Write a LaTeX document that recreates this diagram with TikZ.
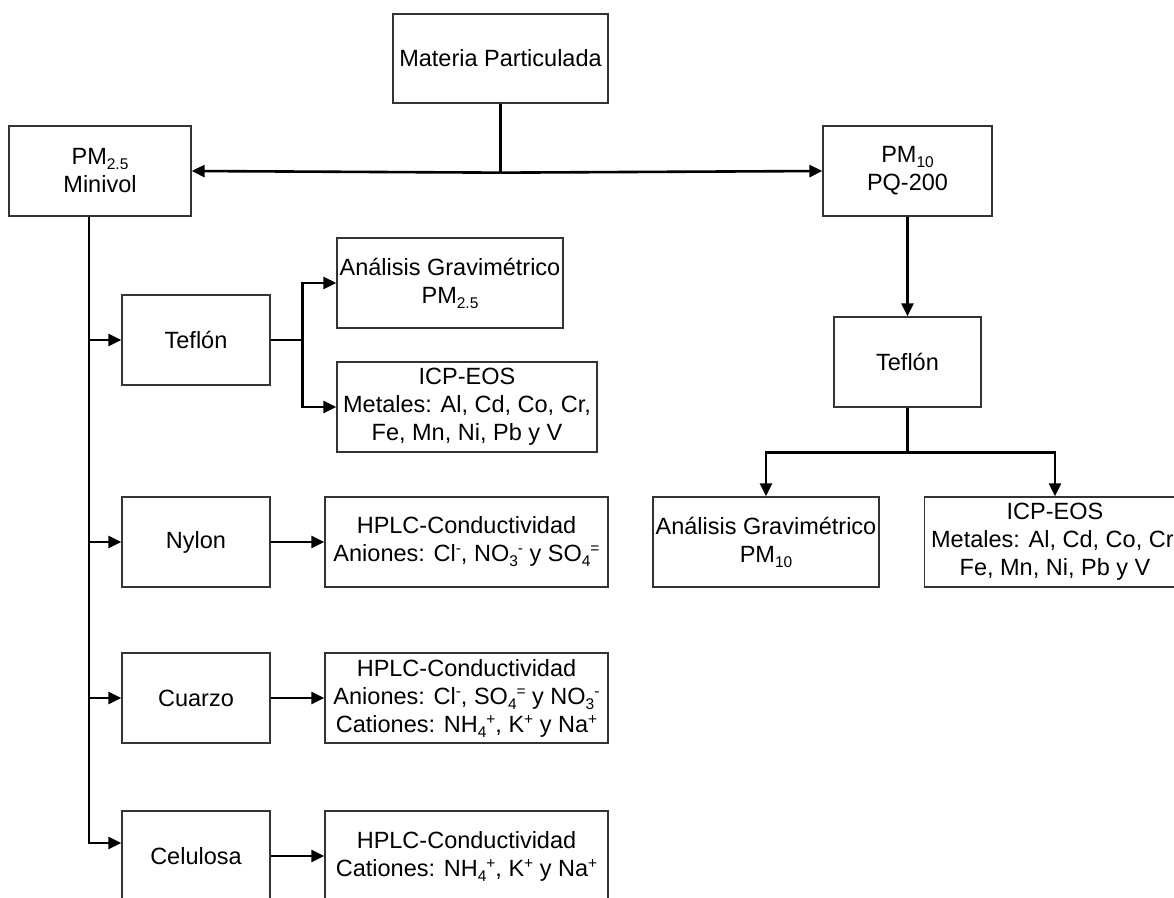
\documentclass[tikz,border=0pt]{standalone}
\usepackage{fontspec}
\setmainfont{Liberation Sans}
\usetikzlibrary{arrows.meta,calc}
\newcommand\dnx[1]{\raisebox{-5pt}{\fontsize{15.5}{16}\selectfont #1}}
\newcommand\upx[1]{\raisebox{8pt}{\fontsize{15.5}{16}\selectfont #1}}
\begin{document}
\begin{tikzpicture}[x=1pt,y=-1pt,
  box/.style={draw=black!80, line width=1.3pt, rectangle, inner sep=0pt, align=center,
    font=\fontsize{23.5}{28}\selectfont, minimum height=90pt},
  conn/.style={line width=2.6pt, black},
  arr/.style={conn, -{Triangle[length=13pt,width=12pt]}},
]
\useasboundingbox (0,0) rectangle (1174,897);
\clip (0,0) rectangle (1174,897);
\fill[white] (0,0) rectangle (1174,897);

% top level
\node[box, minimum width=215pt, minimum height=89pt] (mat) at (500.5,58.5) {Materia Particulada};
\node[box, minimum width=182pt] (pm25) at (100,171) {PM\dnx{2.5}\\Minivol};
\node[box, minimum width=169pt] (pm10) at (907.5,171) {PM\dnx{10}\\PQ-200};

% right branch
\node[box, minimum width=147pt] (tefR) at (907.5,362) {Tefl\'on};
\node[box, minimum width=226pt] (agR) at (766,542) {An\'alisis Gravim\'etrico\\PM\dnx{10}};
\node[box, minimum width=261pt] (icpR) at (1055,542) {ICP-EOS\\Metales: Al, Cd, Co, Cr,\\Fe, Mn, Ni, Pb y V};

% left branch
\node[box, minimum width=148pt] (tefL) at (196,340) {Tefl\'on};
\node[box, minimum width=226pt] (agL) at (450,283) {An\'alisis Gravim\'etrico\\PM\dnx{2.5}};
\node[box, minimum width=260pt] (icpL) at (467,407) {ICP-EOS\\Metales: Al, Cd, Co, Cr,\\Fe, Mn, Ni, Pb y V};

\node[box, minimum width=148pt] (nylon) at (196,542) {Nylon};
\node[box, minimum width=283pt] (hplcN) at (466.5,542) {HPLC-Conductividad\\Aniones: Cl\upx{-}, NO\dnx{3}\upx{-} y SO\dnx{4}\upx{=}};

\node[box, minimum width=148pt] (cuarzo) at (196,698) {Cuarzo};
\node[box, minimum width=283pt] (hplcC) at (466.5,698) {HPLC-Conductividad\\Aniones: Cl\upx{-}, SO\dnx{4}\upx{=} y NO\dnx{3}\upx{-}\\Cationes: NH\dnx{4}\upx{+}, K\upx{+} y Na\upx{+}};

\node[box, minimum width=148pt] (celulosa) at (196,856) {Celulosa};
\node[box, minimum width=283pt] (hplcCel) at (466.5,856) {HPLC-Conductividad\\Cationes: NH\dnx{4}\upx{+}, K\upx{+} y Na\upx{+}};

% top connectors
\coordinate (jtop) at ($(mat.south)+(0,69)$);
\draw[conn] (mat.south) -- (jtop);
\draw[arr] (jtop) -- (pm25.east);
\draw[arr] (jtop) -- (pm10.west);

% right connectors
\draw[arr] (pm10.south) -- (tefR.north);
\draw[arr] (tefR.south) -- ++(0,45) -| (agR.north);
\draw[arr] (tefR.south) -- ++(0,45) -| (icpR.north);

% left spine
\coordinate (spine) at ([xshift=-11pt]pm25.south);
\draw[arr] (spine) |- ([yshift=13pt]celulosa.west);
\draw[arr] (tefL.west -| spine) -- (tefL.west);
\draw[arr] (nylon.west -| spine) -- (nylon.west);
\draw[arr] (cuarzo.west -| spine) -- (cuarzo.west);

% teflon left split
\draw[arr] (tefL.east) -- ++(32,0) |- (agL.west);
\draw[arr] (tefL.east) -- ++(32,0) |- (icpL.west);

% filters to analyses
\draw[arr] (nylon.east) -- (hplcN.west);
\draw[arr] (cuarzo.east) -- (hplcC.west);
\draw[arr] (celulosa.east) -- (hplcCel.west);
\end{tikzpicture}
\end{document}
